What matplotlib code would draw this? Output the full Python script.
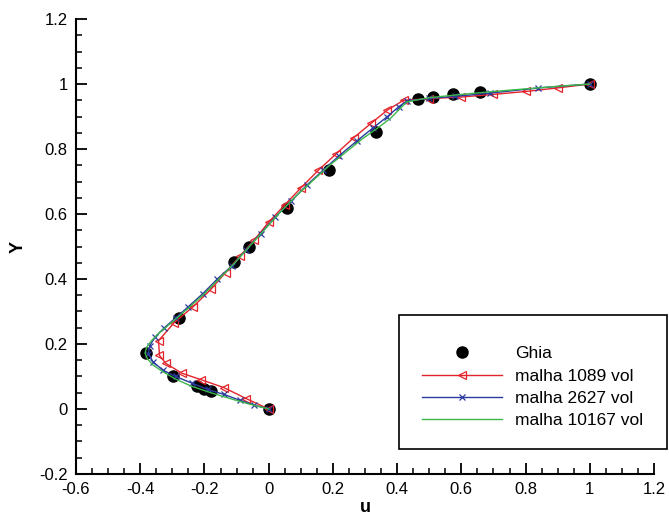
import numpy as np
import matplotlib.pyplot as plt
from matplotlib.patches import Rectangle

plt.rcParams['font.family'] = ['Liberation Sans', 'DejaVu Sans']

# Ghia et al. (Re = 1000), u along the vertical centreline
ghia_u = [1.0, 0.65928, 0.57492, 0.51117, 0.46604, 0.33304, 0.18719, 0.05702,
          -0.06080, -0.10648, -0.27805, -0.38289, -0.29730, -0.22220, -0.20196,
          -0.18109, 0.0]
ghia_y = [1.0, 0.9766, 0.9688, 0.9609, 0.9531, 0.8516, 0.7344, 0.6172,
          0.5, 0.4531, 0.2813, 0.1719, 0.1016, 0.0703, 0.0625, 0.0547, 0.0]

# malha 1089 vol
m1089_u = [0.0, -0.07, -0.14, -0.21, -0.27, -0.32, -0.34, -0.343, -0.295, -0.235,
           -0.18, -0.134, -0.09, -0.045, 0.0, 0.05, 0.10, 0.155, 0.21, 0.265,
           0.32, 0.37, 0.42, 0.50, 0.60, 0.70, 0.80, 0.90, 1.0]
m1089_y = [0.0, 0.032, 0.066, 0.09, 0.11, 0.14, 0.165, 0.21, 0.265, 0.315,
           0.368, 0.42, 0.47, 0.52, 0.575, 0.628, 0.68, 0.735, 0.785, 0.835,
           0.88, 0.92, 0.95, 0.955, 0.96, 0.968, 0.977, 0.988, 1.0]

# malha 2627 vol
m2627_u = [0.0, -0.045, -0.09, -0.14, -0.19, -0.24, -0.29, -0.33, -0.36, -0.375,
           -0.37, -0.355, -0.325, -0.29, -0.25, -0.205, -0.16, -0.115, -0.07,
           -0.025, 0.02, 0.07, 0.12, 0.17, 0.22, 0.275, 0.325, 0.37, 0.405,
           0.43, 0.50, 0.58, 0.69, 0.84, 1.0]
m2627_y = [0.0, 0.012, 0.027, 0.045, 0.06, 0.08, 0.10, 0.12, 0.145, 0.17,
           0.195, 0.22, 0.25, 0.28, 0.315, 0.355, 0.40, 0.44, 0.49,
           0.54, 0.59, 0.64, 0.69, 0.735, 0.78, 0.825, 0.865, 0.90, 0.93,
           0.948, 0.956, 0.962, 0.972, 0.988, 1.0]

# malha 10167 vol
m10167_u = [0.0, -0.06, -0.12, -0.18, -0.24, -0.29, -0.33, -0.36, -0.378, -0.385,
            -0.38, -0.365, -0.34, -0.31, -0.28, -0.245, -0.20, -0.15, -0.105,
            -0.06, -0.01, 0.04, 0.09, 0.14, 0.19, 0.24, 0.29, 0.34, 0.38, 0.41,
            0.43, 0.50, 0.60, 0.70, 0.80, 0.90, 1.0]
m10167_y = [0.0, 0.015, 0.032, 0.05, 0.07, 0.092, 0.115, 0.135, 0.155, 0.172,
            0.19, 0.21, 0.235, 0.26, 0.285, 0.315, 0.355, 0.405, 0.45,
            0.50, 0.555, 0.61, 0.66, 0.705, 0.75, 0.79, 0.83, 0.865, 0.895, 0.925,
            0.945, 0.958, 0.968, 0.977, 0.985, 0.993, 1.0]

fig = plt.figure(figsize=(6.69, 5.17), dpi=100)
ax = fig.add_axes([0.1136, 0.0832, 0.864, 0.880])

ax.plot(ghia_u, ghia_y, 'o', color='black', markersize=8, label='Ghia')
ax.plot(m1089_u, m1089_y, color='#e3242b', lw=1, marker='<', markersize=6,
        markerfacecolor='none', markeredgewidth=0.9, label='malha 1089 vol')
ax.plot(m2627_u, m2627_y, color='#2b3a9e', lw=1, marker='x', markersize=5,
        markeredgewidth=0.9, label='malha 2627 vol')
ax.plot(m10167_u, m10167_y, color='#3cb84a', lw=1, label='malha 10167 vol')

ax.set_xlim(-0.6, 1.2)
ax.set_ylim(-0.2, 1.2)
ax.set_xticks(np.arange(-0.6, 1.21, 0.2))
ax.set_yticks(np.arange(-0.2, 1.21, 0.2))
ax.set_xticklabels(['-0.6', '-0.4', '-0.2', '0', '0.2', '0.4', '0.6', '0.8', '1', '1.2'])
ax.set_yticklabels(['-0.2', '0', '0.2', '0.4', '0.6', '0.8', '1', '1.2'])
ax.set_xticks(np.arange(-0.6, 1.21, 0.05), minor=True)
ax.set_yticks(np.arange(-0.2, 1.21, 0.05), minor=True)
ax.tick_params(which='major', direction='in', length=8, width=1.3, labelsize=12, pad=6)
ax.tick_params(which='minor', direction='in', length=4.5, width=1.1)
ax.spines['top'].set_visible(False)
ax.spines['right'].set_visible(False)
ax.spines['left'].set_linewidth(1.5)
ax.spines['bottom'].set_linewidth(1.5)

ax.set_xlabel('u', fontsize=13, fontweight='bold', labelpad=1)
ax.set_ylabel('Y', fontsize=13, fontweight='bold', labelpad=9)

# legend box
fig.patches.append(Rectangle((399 / 669, 1 - 449 / 517), 268 / 669, 134 / 517,
                             transform=fig.transFigure, fill=False,
                             edgecolor='black', lw=1.2))
fig.legend(loc='upper left', bbox_to_anchor=(422 / 669, 1 - 346 / 517),
           frameon=False, fontsize=12.5, handlelength=4.6, handletextpad=0.75,
           labelspacing=0.42, borderpad=0, borderaxespad=0)

fig.savefig('out.png', dpi=100)
